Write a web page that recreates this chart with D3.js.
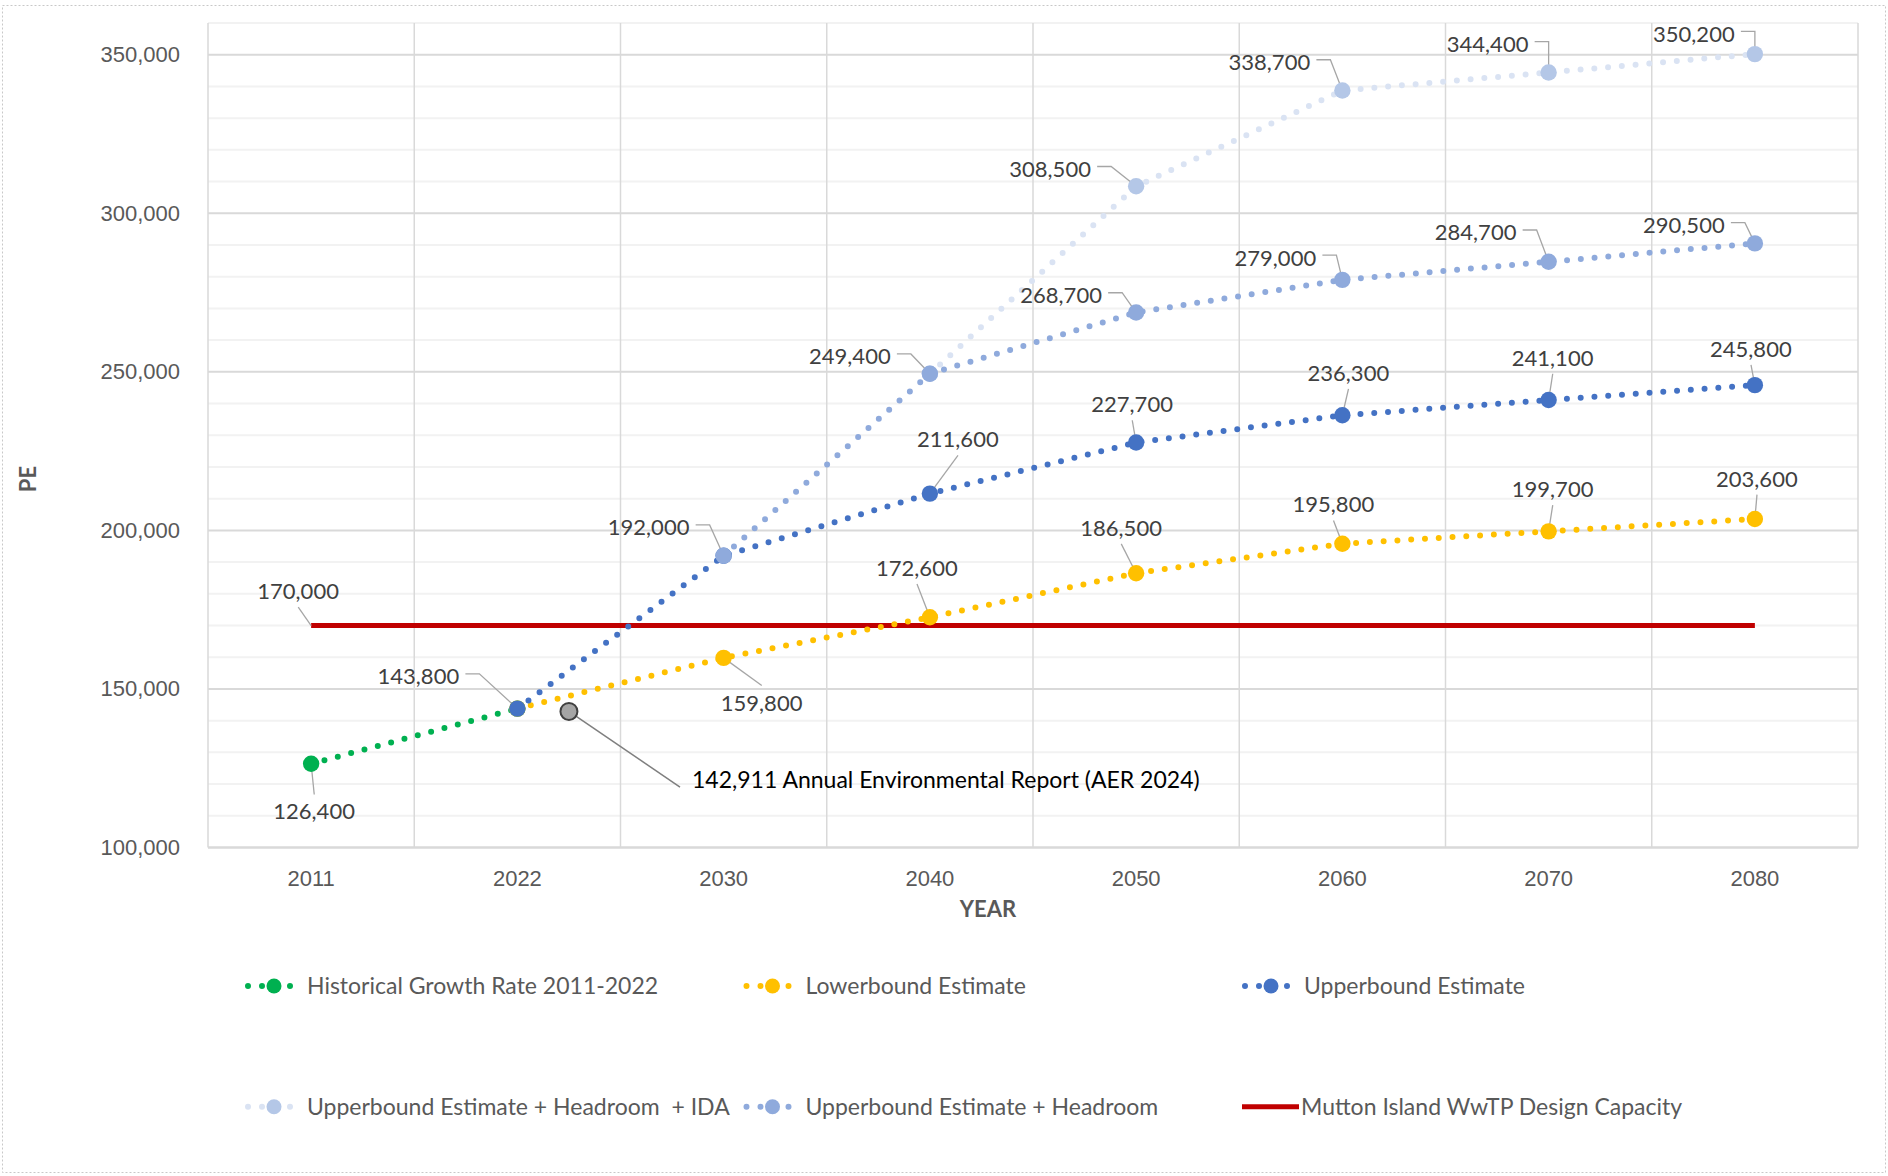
<!DOCTYPE html>
<html lang="en">
<head>
<meta charset="UTF-8">
<title>PE Projections</title>
<script src="https://cdn.jsdelivr.net/npm/d3@7"></script>
<style>
  body { margin: 0; background: #fff; }
  svg { display: block; font-family: Lato, "Open Sans", sans-serif; }
  .tick-label { fill: #595959; font-size: 22px; }
  .axis-title { fill: #595959; font-size: 22px; font-weight: bold; }
  .data-label { fill: #404040; font-size: 22px; }
  .legend-label { fill: #595959; font-size: 23px; white-space: pre; }
</style>
</head>
<body>
<div id="chart"></div>
<script>
  // Data (null = no value for that year)
  const years = ["2011", "2022", "2030", "2040", "2050", "2060", "2070", "2080"];
  const historical  = [126400, 143800, null, null, null, null, null, null];
  const lowerbound  = [null, 143800, 159800, 172600, 186500, 195800, 199700, 203600];
  const upperbound  = [null, 143800, 192000, 211600, 227700, 236300, 241100, 245800];
  const headroomIda = [null, null, null, 249400, 308500, 338700, 344400, 350200];
  const headroom    = [null, null, 192000, 249400, 268700, 279000, 284700, 290500];
  const capacity    = [170000, 170000, 170000, 170000, 170000, 170000, 170000, 170000];
  const aerYear = 2024;
  const aerValue = 142911;
  const aerText = "Annual Environmental Report (AER 2024)";
  const yTicks = [100000, 150000, 200000, 250000, 300000, 350000];

  const series = [
    { key: "historical", name: "Historical Growth Rate 2011-2022", values: historical, line: "#00B050", marker: "#00B050" },
    { key: "lower", name: "Lowerbound Estimate", values: lowerbound, line: "#FFC000", marker: "#FFC000" },
    { key: "upper", name: "Upperbound Estimate", values: upperbound, line: "#4472C4", marker: "#4472C4" },
    { key: "ida", name: "Upperbound Estimate + Headroom  + IDA", values: headroomIda, line: "#DAE3F3", marker: "#B4C7E7" },
    { key: "headroom", name: "Upperbound Estimate + Headroom", values: headroom, line: "#8FAADC", marker: "#8FAADC" }
  ];
  const capacityName = "Mutton Island WwTP Design Capacity";

  // Label placement: [series, year, dx, dy] offset of label centre from its point
  const labelLayout = [
    ["historical", "2011", 3, 48],
    ["upper", "2022", -99, -32],
    ["lower", "2030", 38, 45],
    ["lower", "2040", -13, -49],
    ["lower", "2050", -15, -45],
    ["lower", "2060", -9, -39],
    ["lower", "2070", 4, -42],
    ["lower", "2080", 2, -40],
    ["upper", "2040", 28, -54],
    ["upper", "2050", -4, -38],
    ["upper", "2060", 6, -42],
    ["upper", "2070", 4, -42],
    ["upper", "2080", -4, -36],
    ["headroom", "2030", -75, -28],
    ["headroom", "2040", -80, -17],
    ["headroom", "2050", -75, -17],
    ["headroom", "2060", -67, -22],
    ["headroom", "2070", -73, -29],
    ["headroom", "2080", -71, -18],
    ["ida", "2050", -86, -17],
    ["ida", "2060", -73, -28],
    ["ida", "2070", -61, -28],
    ["ida", "2080", -61, -20],
    ["capacity", "2011", -13, -34]
  ];

  const width = 1888, height = 1176;
  const plot = { left: 208, right: 1858, top: 23, bottom: 847.5 };
  const fmt = d3.format(",");

  const svg = d3.select("#chart").append("svg")
    .attr("width", width)
    .attr("height", height);

  // outer dotted frame
  svg.append("rect")
    .attr("x", 2.5).attr("y", 5.5)
    .attr("width", width - 5).attr("height", height - 9)
    .attr("fill", "none")
    .attr("stroke", "#c8c8c8")
    .attr("stroke-dasharray", "2,2");

  const x = d3.scaleBand().domain(years).range([plot.left, plot.right]);
  const cx = d => x(d) + x.bandwidth() / 2;
  const yearPos = d3.scaleLinear().domain(years.map(Number)).range(years.map(cx));
  const y = d3.scaleLinear().domain([100000, 360000]).range([plot.bottom, plot.top]);

  // gridlines
  const grid = svg.append("g");
  grid.selectAll(".minor")
    .data(d3.range(110000, 360001, 10000).filter(v => v % 50000 !== 0))
    .enter().append("line")
    .attr("x1", plot.left).attr("x2", plot.right)
    .attr("y1", d => y(d)).attr("y2", d => y(d))
    .attr("stroke", "#f2f2f2").attr("stroke-width", 2);
  grid.selectAll(".major")
    .data(yTicks.slice(1))
    .enter().append("line")
    .attr("x1", plot.left).attr("x2", plot.right)
    .attr("y1", d => y(d)).attr("y2", d => y(d))
    .attr("stroke", "#d9d9d9").attr("stroke-width", 2);
  grid.selectAll(".vert")
    .data(years.map(d => x(d)).concat([plot.right]))
    .enter().append("line")
    .attr("x1", d => d).attr("x2", d => d)
    .attr("y1", plot.top).attr("y2", plot.bottom)
    .attr("stroke", "#d9d9d9").attr("stroke-width", 1.5);
  grid.append("line")
    .attr("x1", plot.left).attr("x2", plot.right)
    .attr("y1", plot.bottom).attr("y2", plot.bottom)
    .attr("stroke", "#d9d9d9").attr("stroke-width", 2.5);

  // axes
  const yAxis = svg.append("g")
    .attr("transform", `translate(${plot.left - 25},0)`)
    .call(d3.axisLeft(y).tickValues(yTicks).tickFormat(fmt).tickSize(0));
  yAxis.select(".domain").remove();
  yAxis.selectAll("text").attr("class", "tick-label").attr("font-size", null).attr("font-family", null);

  const xAxis = svg.append("g")
    .attr("transform", `translate(0,${plot.bottom + 20})`)
    .call(d3.axisBottom(x).tickSize(0));
  xAxis.select(".domain").remove();
  xAxis.selectAll("text").attr("class", "tick-label").attr("font-size", null).attr("font-family", null);

  svg.append("text").attr("class", "axis-title")
    .attr("x", 988).attr("y", 909).attr("dy", "0.35em")
    .attr("text-anchor", "middle").text("YEAR");
  svg.append("text").attr("class", "axis-title")
    .attr("transform", "translate(28,479) rotate(-90)")
    .attr("dy", "0.35em").attr("text-anchor", "middle").text("PE");

  const line = d3.line()
    .defined(d => d.v != null)
    .x(d => cx(d.year))
    .y(d => y(d.v));
  const pts = s => years.map((yr, i) => ({ year: yr, v: s.values[i] }));

  // design capacity line
  svg.append("path")
    .attr("d", line(pts({ values: capacity })))
    .attr("fill", "none")
    .attr("stroke", "#C00000")
    .attr("stroke-width", 5);

  // dotted series lines
  svg.append("g").selectAll("path")
    .data(series)
    .enter().append("path")
    .attr("d", s => line(pts(s)))
    .attr("fill", "none")
    .attr("stroke", s => s.line)
    .attr("stroke-width", 6)
    .attr("stroke-linecap", "round")
    .attr("stroke-dasharray", "0 13.8");

  const leaders = svg.append("g");
  const markers = svg.append("g");
  const labels = svg.append("g");

  series.forEach(s => {
    markers.selectAll(null)
      .data(pts(s).filter(d => d.v != null))
      .enter().append("circle")
      .attr("cx", d => cx(d.year))
      .attr("cy", d => y(d.v))
      .attr("r", 8.2)
      .attr("fill", s.marker);
  });

  // AER point
  const ax = yearPos(aerYear), ay = y(aerValue);
  markers.append("circle")
    .attr("cx", ax).attr("cy", ay).attr("r", 8.5)
    .attr("fill", "#a5a5a5").attr("stroke", "#404040").attr("stroke-width", 2);
  const aerLabel = labels.append("text")
    .attr("x", 692).attr("y", 780).attr("dy", "0.35em")
    .attr("fill", "#000").attr("font-size", 23)
    .text(fmt(aerValue) + " " + aerText);
  const ab = aerLabel.node().getBBox();
  leaders.append("path")
    .attr("d", `M${ax},${ay}L${ab.x - 12},${ab.y + ab.height / 2 + 8}`)
    .attr("fill", "none").attr("stroke", "#7f7f7f").attr("stroke-width", 1.5);

  // data labels with leader lines
  const lookup = { capacity: capacity };
  series.forEach(s => lookup[s.key] = s.values);

  function leaderPath(b, px, py) {
    const mx = b.x + b.width / 2, my = b.y + b.height / 2;
    if (px > b.x + b.width + 4) {
      const sx = b.x + b.width + 6, sy = my - 2;
      return `M${sx},${sy}H${sx + 14}L${px},${py}`;
    }
    if (py > b.y + b.height) return `M${mx},${b.y + b.height + 3}L${px},${py}`;
    return `M${mx},${b.y - 3}L${px},${py}`;
  }

  labelLayout.forEach(([key, yr, dx, dy]) => {
    const v = lookup[key][years.indexOf(yr)];
    const px = cx(yr), py = y(v);
    const t = labels.append("text")
      .attr("class", "data-label")
      .attr("x", px + dx).attr("y", py + dy)
      .attr("dy", "0.35em")
      .attr("text-anchor", "middle")
      .text(fmt(v));
    const b = t.node().getBBox();
    leaders.append("path")
      .attr("d", leaderPath(b, px, py))
      .attr("fill", "none")
      .attr("stroke", "#a6a6a6")
      .attr("stroke-width", 1.3);
  });

  // legend
  const legendItems = series.map(s => ({ name: s.name, line: s.line, marker: s.marker, dotted: true }))
    .concat([{ name: capacityName, line: "#C00000", dotted: false }]);
  const legend = svg.append("g");
  legendItems.forEach((it, i) => {
    const lx = 245 + (i % 3) * 498.5;
    const ly = 986 + Math.floor(i / 3) * 120.7;
    const g = legend.append("g").attr("transform", `translate(${lx},${ly})`);
    if (it.dotted) {
      g.append("line")
        .attr("x1", 3).attr("x2", 46).attr("y1", 0).attr("y2", 0)
        .attr("stroke", it.line).attr("stroke-width", 6)
        .attr("stroke-linecap", "round").attr("stroke-dasharray", "0 14");
      g.append("circle").attr("cx", 29).attr("cy", 0).attr("r", 7.5).attr("fill", it.marker);
    } else {
      g.append("line")
        .attr("x1", 0).attr("x2", 57).attr("y1", 0).attr("y2", 0)
        .attr("stroke", it.line).attr("stroke-width", 5);
    }
    g.append("text").attr("class", "legend-label")
      .attr("x", it.dotted ? 62 : 59).attr("dy", "0.35em")
      .text(it.name);
  });
</script>
</body>
</html>
